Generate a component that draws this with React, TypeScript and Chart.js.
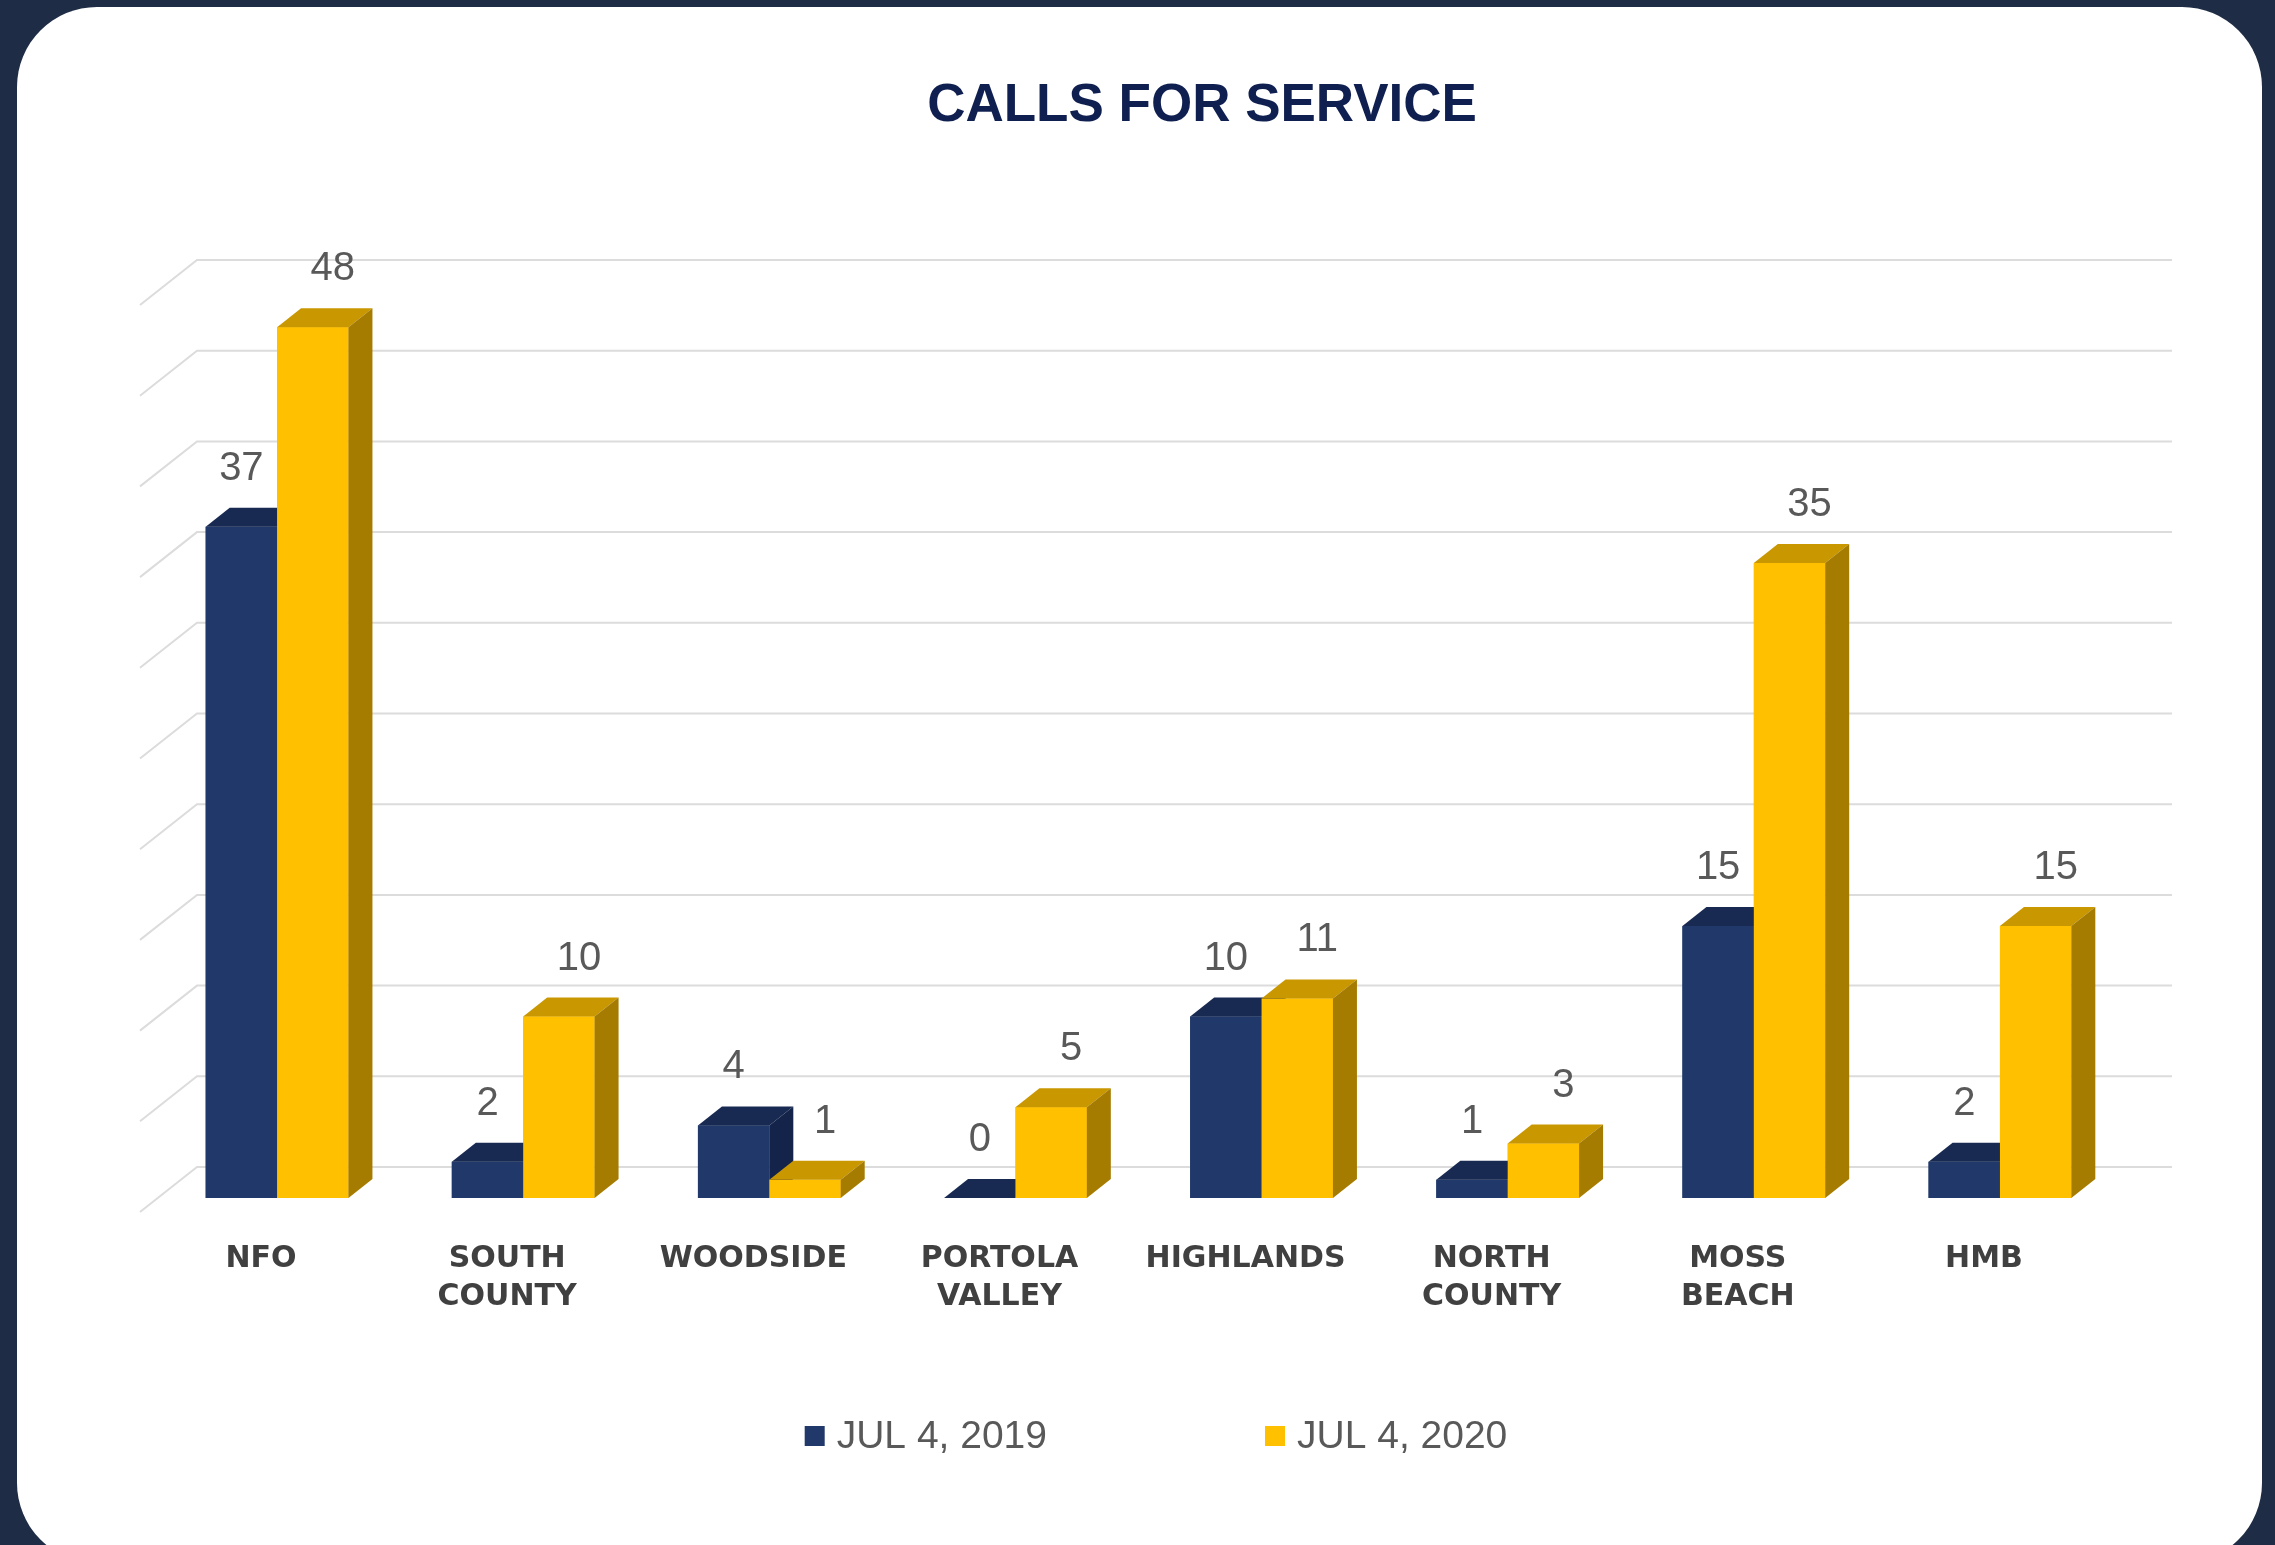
import React, { useEffect, useRef } from 'react';
import { Chart, registerables } from 'chart.js';

Chart.register(...registerables);

// ---------- data ----------
const categories: (string | string[])[] = [
  'NFO',
  ['SOUTH', 'COUNTY'],
  'WOODSIDE',
  ['PORTOLA', 'VALLEY'],
  'HIGHLANDS',
  ['NORTH', 'COUNTY'],
  ['MOSS', 'BEACH'],
  'HMB',
];
const seriesNames = ['JUL 4, 2019', 'JUL 4, 2020'];
const values2019 = [37, 2, 4, 0, 10, 1, 15, 2];
const values2020 = [48, 10, 1, 5, 11, 3, 35, 15];
const titleText = 'CALLS FOR SERVICE';
const yMin = 0;
const yMax = 50;
const yStep = 5;

// ---------- styles ----------
const W = 2275;
const H = 1545;
const FRONT = ['#21396a', '#ffc000'];
const TOP = ['#182a52', '#c99700'];
const SIDE = ['#13234a', '#a57b00'];
const DEPTH_X = 24;
const DEPTH_Y = -19;
const WALL_X = 43;
const WALL_Y = -31;
const GRID_COLOR = '#dcdcdc';
const LABEL_COLOR = '#595959';
const LABEL_OFFSET_X = [0, 20];
const LABEL_OFFSET_Y = -58;

const threeD = {
  id: 'threeD',
  beforeDatasetsDraw(chart: any) {
    const { ctx, chartArea, scales } = chart;
    const y = scales.y;
    ctx.save();
    ctx.strokeStyle = GRID_COLOR;
    ctx.lineWidth = 2;
    y.ticks.forEach((t: any) => {
      const py = y.getPixelForValue(t.value);
      const by = py + WALL_Y;
      ctx.beginPath();
      ctx.moveTo(chartArea.left - 14, py + 14);
      ctx.lineTo(chartArea.left + WALL_X, by);
      ctx.lineTo(chartArea.right + 49, by);
      ctx.stroke();
    });
    ctx.restore();
  },
  afterDatasetsDraw(chart: any) {
    const { ctx } = chart;
    ctx.save();
    chart.data.datasets.forEach((ds: any, i: number) => {
      const meta = chart.getDatasetMeta(i);
      meta.data.forEach((el: any) => {
        const { x, y, base, width } = el.getProps(['x', 'y', 'base', 'width'], true);
        const x0 = x - width / 2;
        const x1 = x + width / 2;
        el.draw(ctx);
        // top face
        ctx.fillStyle = TOP[i];
        ctx.beginPath();
        ctx.moveTo(x0, y);
        ctx.lineTo(x1, y);
        ctx.lineTo(x1 + DEPTH_X, y + DEPTH_Y);
        ctx.lineTo(x0 + DEPTH_X, y + DEPTH_Y);
        ctx.closePath();
        ctx.fill();
        // side face
        ctx.fillStyle = SIDE[i];
        ctx.beginPath();
        ctx.moveTo(x1, y);
        ctx.lineTo(x1 + DEPTH_X, y + DEPTH_Y);
        ctx.lineTo(x1 + DEPTH_X, base + DEPTH_Y);
        ctx.lineTo(x1, base);
        ctx.closePath();
        ctx.fill();
      });
    });
    // value labels
    ctx.font = '40px "Liberation Sans", Arial, sans-serif';
    ctx.fillStyle = LABEL_COLOR;
    ctx.textAlign = 'center';
    ctx.textBaseline = 'middle';
    chart.data.datasets.forEach((ds: any, i: number) => {
      const meta = chart.getDatasetMeta(i);
      meta.data.forEach((el: any, j: number) => {
        const { x, y } = el.getProps(['x', 'y'], true);
        ctx.fillText(String(ds.data[j]), x + LABEL_OFFSET_X[i], y + LABEL_OFFSET_Y);
      });
    });
    ctx.restore();
  },
  afterDraw(chart: any) {
    const { ctx } = chart;
    ctx.save();
    // title
    ctx.font = 'bold 53px "Liberation Sans", Arial, sans-serif';
    ctx.fillStyle = '#0f1f4f';
    ctx.textAlign = 'center';
    ctx.textBaseline = 'middle';
    ctx.fillText(titleText, 1202, 106);
    // legend
    ctx.font = '39px "Liberation Sans", Arial, sans-serif';
    ctx.textAlign = 'left';
    const box = 20;
    const gap = 12;
    const spacing = 218;
    const items = chart.data.datasets.map((ds: any) => ({
      label: ds.label,
      color: ds.backgroundColor,
      w: box + gap + ctx.measureText(ds.label).width,
    }));
    const total = items.reduce((s: number, it: any) => s + it.w, 0) + spacing * (items.length - 1);
    let x = 1156 - total / 2;
    const ly = 1436;
    items.forEach((it: any) => {
      ctx.fillStyle = it.color;
      ctx.fillRect(x, ly - box / 2, box, box);
      ctx.fillStyle = LABEL_COLOR;
      ctx.fillText(it.label, x + box + gap, ly + 1);
      x += it.w + spacing;
    });
    ctx.restore();
  },
};

export default function App() {
  const ref = useRef<HTMLCanvasElement>(null);
  useEffect(() => {
    if (!ref.current) return;
    const chart = new Chart(ref.current, {
      type: 'bar',
      data: {
        labels: categories as any,
        datasets: [
          { label: seriesNames[0], data: values2019, backgroundColor: FRONT[0], borderWidth: 0 },
          { label: seriesNames[1], data: values2020, backgroundColor: FRONT[1], borderWidth: 0 },
        ],
      },
      options: {
        responsive: false,
        animation: false,
        events: [],
        layout: { padding: { left: 154, right: 152, top: 291, bottom: 233 } },
        datasets: { bar: { categoryPercentage: 0.58, barPercentage: 1.0 } },
        plugins: {
          legend: { display: false },
          title: { display: false },
          tooltip: { enabled: false },
        },
        scales: {
          x: {
            grid: { display: false, drawTicks: false },
            border: { display: false },
            ticks: {
              padding: 42,
              labelOffset: -16,
              maxRotation: 0,
              autoSkip: false,
              color: '#404040',
              font: { family: '"DejaVu Sans", Verdana, sans-serif', size: 30, weight: 'bold', lineHeight: 1.27 },
            },
            afterFit: (axis: any) => {
              axis.height = 114;
            },
          },
          y: {
            min: yMin,
            max: yMax,
            grid: { display: false, drawTicks: false },
            border: { display: false },
            ticks: { display: false, stepSize: yStep },
            afterFit: (axis: any) => {
              axis.width = 0;
            },
          },
        },
      },
      plugins: [threeD],
    });
    return () => chart.destroy();
  }, []);

  return (
    <div style={{ position: 'fixed', left: 0, top: 0, width: W, height: H, overflow: 'hidden', background: '#1e2d45' }}>
      <div
        style={{
          position: 'absolute',
          left: 17,
          top: 7,
          width: 2245,
          height: 1556,
          borderRadius: 80,
          background: '#ffffff',
        }}
      />
      <canvas ref={ref} width={W} height={H} style={{ position: 'absolute', left: 0, top: 0, width: W, height: H }} />
    </div>
  );
}
